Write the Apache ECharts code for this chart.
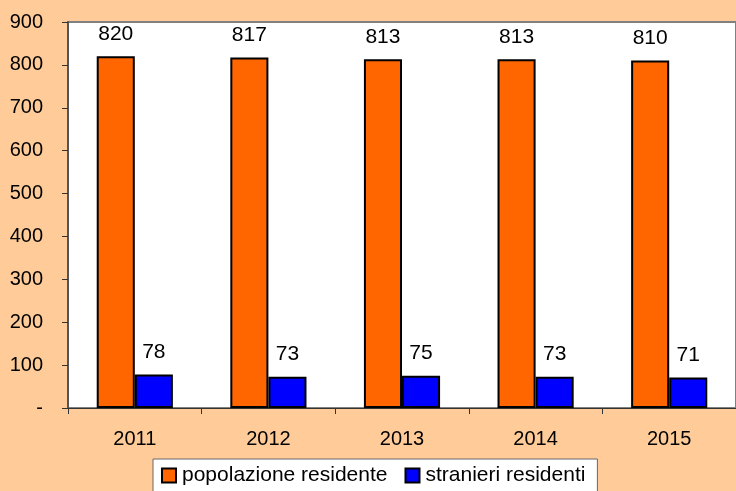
<!DOCTYPE html>
<html>
<head>
<meta charset="utf-8">
<script src="https://cdn.jsdelivr.net/npm/echarts@6/dist/echarts.min.js"></script>
<style>
html,body{margin:0;padding:0;background:#FFCC99;}
#c{width:736px;height:491px;}
</style>
</head>
<body>
<div id="c"></div>
<script>
var categories = ['2011', '2012', '2013', '2014', '2015'];
var popolazione = [820, 817, 813, 813, 810];
var stranieri = [78, 73, 75, 73, 71];
var seriesNames = ['popolazione residente', 'stranieri residenti'];
var yTicks = [0, 100, 200, 300, 400, 500, 600, 700, 800, 900];

var FONT = 'Liberation Sans, Arial, sans-serif';
var chart = echarts.init(document.getElementById('c'));
var labelStyle = {show: true, position: 'top', distance: 12, color: '#000', fontSize: 21, fontFamily: FONT};
chart.setOption({
  backgroundColor: '#FFCC99',
  animation: false,
  grid: {left: 68, top: 22, right: -4, bottom: 83, show: true, backgroundColor: '#fff', borderColor: '#808080', borderWidth: 2},
  legend: {
    data: seriesNames,
    top: 459,
    left: 153,
    backgroundColor: '#fff',
    borderColor: '#666',
    borderWidth: 1,
    padding: [6, 12, 30, 8],
    itemWidth: 14,
    itemHeight: 14,
    itemGap: 17,
    icon: 'rect',
    textStyle: {fontSize: 21, fontFamily: FONT, color: '#000', padding: [0, 0, 0, 1]}
  },
  xAxis: {
    type: 'category',
    data: categories,
    axisLine: {lineStyle: {color: '#333', width: 1}},
    axisTick: {show: true, alignWithLabel: false, length: 6, lineStyle: {color: '#333'}},
    axisLabel: {color: '#000', fontSize: 20, fontFamily: FONT, margin: 21}
  },
  yAxis: {
    type: 'value',
    min: 0, max: 900, interval: 100,
    splitLine: {show: false},
    axisLine: {show: true, lineStyle: {color: '#555', width: 2}},
    axisTick: {show: true, length: 6, lineStyle: {color: '#333'}},
    axisLabel: {color: '#000', fontSize: 20, fontFamily: FONT, margin: 25,
      formatter: function (v) { return yTicks.indexOf(v) === 0 ? '-' : String(v); }}
  },
  series: [
    {name: seriesNames[0], type: 'bar', data: popolazione, barGap: '0%', barCategoryGap: '43%',
     itemStyle: {color: '#FF6600', borderColor: '#000', borderWidth: 2}, label: labelStyle},
    {name: seriesNames[1], type: 'bar', data: stranieri,
     itemStyle: {color: '#0000FF', borderColor: '#000', borderWidth: 2}, label: labelStyle}
  ]
});
</script>
</body>
</html>
